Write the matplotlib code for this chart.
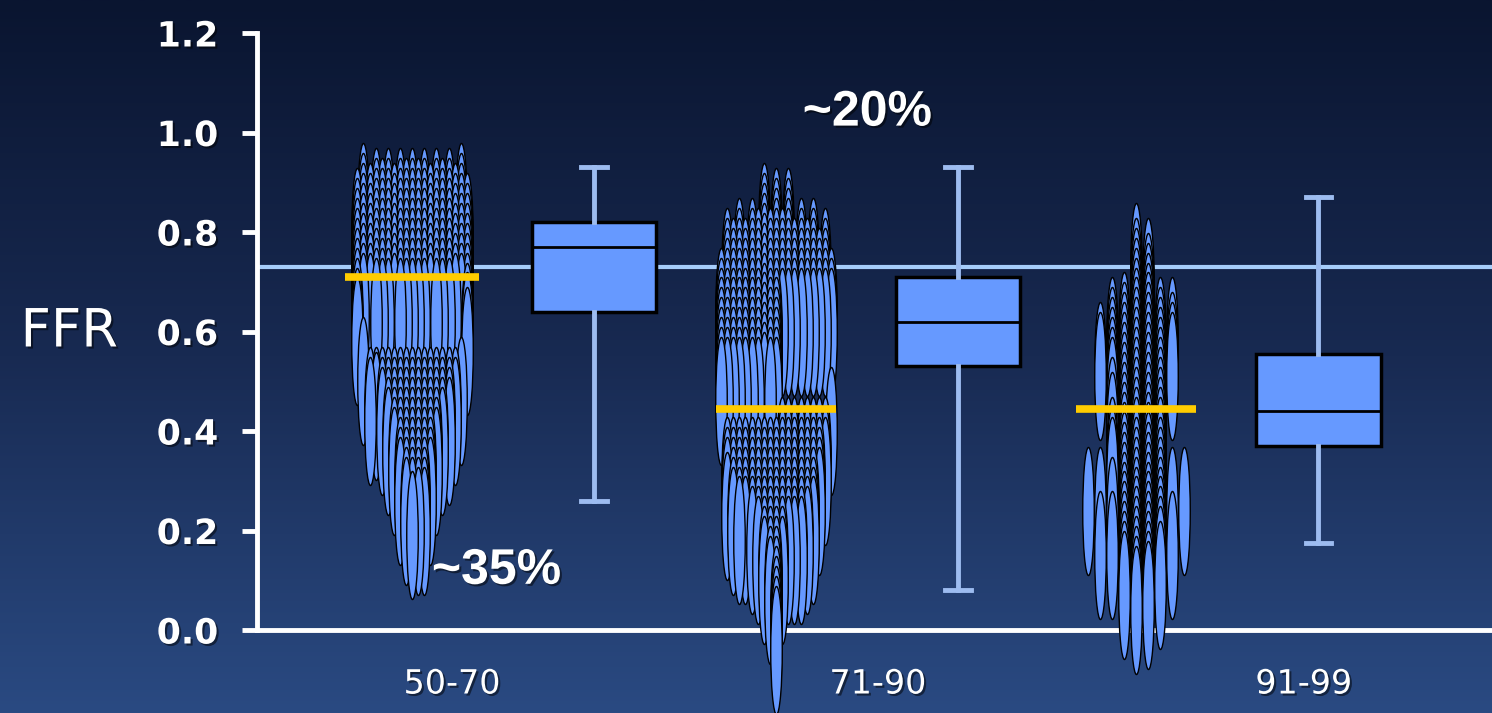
import numpy as np
import matplotlib
matplotlib.use("Agg")
import matplotlib.pyplot as plt
from matplotlib.path import Path
from matplotlib.transforms import Affine2D
from matplotlib.colors import LinearSegmentedColormap
import matplotlib.patheffects as pe

# stenosis groups
groups = ["50-70", "71-90", "91-99"]

# FFR values of each dot, one list per swarm column (left to right)
ffr_50_70 = [
    [0.80, 0.78, 0.76, 0.74, 0.72, 0.70, 0.68, 0.66, 0.64, 0.62, 0.60, 0.58],
    [0.85, 0.83, 0.81, 0.79, 0.77, 0.75, 0.73, 0.71, 0.69, 0.67, 0.65, 0.63, 0.50],
    [0.81, 0.79, 0.77, 0.75, 0.73, 0.71, 0.69, 0.67, 0.65, 0.63, 0.44, 0.42],
    [0.84, 0.82, 0.80, 0.78, 0.76, 0.74, 0.72, 0.70, 0.68, 0.66, 0.64, 0.62, 0.44, 0.43],
    [0.82, 0.80, 0.78, 0.76, 0.74, 0.72, 0.70, 0.68, 0.66, 0.64, 0.62, 0.44, 0.42, 0.40],
    [0.84, 0.82, 0.80, 0.78, 0.76, 0.74, 0.72, 0.70, 0.68, 0.66, 0.64, 0.62, 0.44, 0.42, 0.40, 0.38, 0.36],
    [0.81, 0.79, 0.77, 0.75, 0.73, 0.71, 0.69, 0.67, 0.65, 0.63, 0.44, 0.42, 0.40, 0.38, 0.36, 0.34, 0.32],
    [0.84, 0.82, 0.80, 0.78, 0.76, 0.74, 0.72, 0.70, 0.68, 0.66, 0.64, 0.62, 0.44, 0.42, 0.40, 0.38, 0.36,
     0.34, 0.32, 0.30, 0.28, 0.26],
    [0.82, 0.80, 0.78, 0.76, 0.74, 0.72, 0.70, 0.68, 0.66, 0.64, 0.62, 0.44, 0.42, 0.40, 0.38, 0.36, 0.34,
     0.32, 0.30, 0.28, 0.26, 0.24, 0.22],
    [0.84, 0.82, 0.80, 0.78, 0.76, 0.74, 0.72, 0.70, 0.68, 0.66, 0.64, 0.62, 0.44, 0.42, 0.40, 0.38, 0.36,
     0.34, 0.32, 0.30, 0.28, 0.26, 0.24, 0.22, 0.19],
    [0.82, 0.80, 0.78, 0.76, 0.74, 0.72, 0.70, 0.68, 0.66, 0.64, 0.62, 0.44, 0.42, 0.40, 0.38, 0.36, 0.34,
     0.32, 0.30, 0.28, 0.26, 0.24, 0.22, 0.20],
    [0.84, 0.82, 0.80, 0.78, 0.76, 0.74, 0.72, 0.70, 0.68, 0.66, 0.64, 0.62, 0.44, 0.42, 0.40, 0.38, 0.36,
     0.34, 0.32, 0.30, 0.28, 0.26, 0.24, 0.22, 0.20],
    [0.81, 0.79, 0.77, 0.75, 0.73, 0.71, 0.69, 0.67, 0.65, 0.63, 0.44, 0.42, 0.40, 0.38, 0.36, 0.34, 0.32,
     0.30, 0.28, 0.26],
    [0.84, 0.82, 0.80, 0.78, 0.76, 0.74, 0.72, 0.70, 0.68, 0.66, 0.64, 0.62, 0.44, 0.42, 0.40, 0.38, 0.36,
     0.34, 0.32],
    [0.82, 0.80, 0.78, 0.76, 0.74, 0.72, 0.70, 0.68, 0.66, 0.64, 0.62, 0.44, 0.42, 0.40, 0.38, 0.36],
    [0.84, 0.82, 0.80, 0.78, 0.76, 0.74, 0.72, 0.70, 0.68, 0.66, 0.64, 0.62, 0.44, 0.42, 0.40, 0.38],
    [0.81, 0.79, 0.77, 0.75, 0.73, 0.71, 0.69, 0.67, 0.65, 0.63, 0.44, 0.42],
    [0.85, 0.83, 0.81, 0.79, 0.77, 0.75, 0.73, 0.71, 0.69, 0.67, 0.65, 0.63, 0.46],
    [0.79, 0.77, 0.75, 0.73, 0.71, 0.69, 0.67, 0.65, 0.63, 0.61, 0.59, 0.56],
]

ffr_71_90 = [
    [0.64, 0.62, 0.60, 0.58, 0.56, 0.54, 0.52, 0.50, 0.48, 0.46],
    [0.72, 0.70, 0.68, 0.66, 0.64, 0.62, 0.60, 0.58, 0.56, 0.54, 0.52, 0.50, 0.48, 0.46, 0.30, 0.28, 0.26,
     0.23],
    [0.70, 0.68, 0.66, 0.64, 0.62, 0.60, 0.58, 0.56, 0.54, 0.52, 0.50, 0.48, 0.46, 0.30, 0.28, 0.26, 0.24,
     0.22, 0.20],
    [0.74, 0.72, 0.70, 0.68, 0.66, 0.64, 0.62, 0.60, 0.58, 0.56, 0.54, 0.52, 0.50, 0.48, 0.46, 0.30, 0.28,
     0.26, 0.24, 0.22, 0.20, 0.18],
    [0.70, 0.68, 0.66, 0.64, 0.62, 0.60, 0.58, 0.56, 0.54, 0.52, 0.50, 0.48, 0.46, 0.30, 0.28, 0.26, 0.24,
     0.22, 0.20, 0.18],
    [0.74, 0.72, 0.70, 0.68, 0.66, 0.64, 0.62, 0.60, 0.58, 0.56, 0.54, 0.52, 0.50, 0.48, 0.46, 0.30, 0.28,
     0.26, 0.24, 0.22, 0.20, 0.18, 0.16],
    [0.72, 0.70, 0.68, 0.66, 0.64, 0.62, 0.60, 0.58, 0.56, 0.54, 0.52, 0.50, 0.48, 0.46, 0.30, 0.28, 0.26,
     0.24, 0.22, 0.20, 0.18, 0.16, 0.14],
    [0.81, 0.79, 0.77, 0.75, 0.73, 0.71, 0.69, 0.67, 0.65, 0.63, 0.61, 0.59, 0.57, 0.55, 0.53, 0.51, 0.49,
     0.47, 0.30, 0.28, 0.26, 0.24, 0.22, 0.20, 0.18, 0.16, 0.14, 0.12, 0.10],
    [0.72, 0.70, 0.68, 0.66, 0.64, 0.62, 0.60, 0.58, 0.56, 0.54, 0.52, 0.50, 0.48, 0.46, 0.30, 0.28, 0.26,
     0.24, 0.22, 0.20, 0.18, 0.16, 0.14, 0.12, 0.10, 0.08, 0.06],
    [0.80, 0.78, 0.76, 0.74, 0.72, 0.70, 0.68, 0.66, 0.64, 0.62, 0.60, 0.58, 0.56, 0.54, 0.52, 0.50, 0.48,
     0.46, 0.30, 0.28, 0.26, 0.24, 0.22, 0.20, 0.18, 0.16, 0.14, 0.12, 0.10, 0.08, 0.06, 0.04, 0.02, 0.00,
     -0.02, -0.04],
    [0.72, 0.70, 0.68, 0.66, 0.64, 0.62, 0.60, 0.34, 0.32, 0.30, 0.28, 0.26, 0.24, 0.22, 0.20, 0.18, 0.16,
     0.14, 0.12, 0.10],
    [0.80, 0.78, 0.76, 0.74, 0.72, 0.70, 0.68, 0.66, 0.64, 0.62, 0.60, 0.34, 0.32, 0.30, 0.28, 0.26, 0.24,
     0.22, 0.20, 0.18, 0.16, 0.14],
    [0.70, 0.68, 0.66, 0.64, 0.62, 0.60, 0.34, 0.32, 0.30, 0.28, 0.26, 0.24, 0.22, 0.20, 0.18, 0.16, 0.14],
    [0.74, 0.72, 0.70, 0.68, 0.66, 0.64, 0.62, 0.60, 0.34, 0.32, 0.30, 0.28, 0.26, 0.24, 0.22, 0.20, 0.18,
     0.16, 0.14],
    [0.70, 0.68, 0.66, 0.64, 0.62, 0.60, 0.34, 0.32, 0.30, 0.28, 0.26, 0.24, 0.22, 0.20, 0.18, 0.16],
    [0.74, 0.72, 0.70, 0.68, 0.66, 0.64, 0.62, 0.60, 0.34, 0.32, 0.30, 0.28, 0.26, 0.24, 0.22, 0.20, 0.18],
    [0.68, 0.66, 0.64, 0.62, 0.60, 0.34, 0.32, 0.30, 0.28, 0.26, 0.24],
    [0.72, 0.70, 0.68, 0.66, 0.64, 0.62, 0.60, 0.34, 0.32, 0.30],
    [0.64, 0.62, 0.60, 0.40],
]

ffr_91_99 = [
    [0.24],
    [0.53, 0.51, 0.24, 0.15],
    [0.58, 0.56, 0.54, 0.52, 0.50, 0.48, 0.46, 0.42, 0.39, 0.34, 0.32, 0.30, 0.22, 0.15],
    [0.59, 0.57, 0.55, 0.53, 0.51, 0.49, 0.47, 0.45, 0.43, 0.41, 0.39, 0.37, 0.35, 0.33, 0.31, 0.29, 0.27,
     0.25, 0.23, 0.21, 0.19, 0.17, 0.15, 0.13, 0.11, 0.09, 0.07],
    [0.73, 0.70, 0.68, 0.66, 0.64, 0.62, 0.60, 0.58, 0.56, 0.54, 0.52, 0.50, 0.48, 0.46, 0.44, 0.42, 0.40,
     0.38, 0.36, 0.34, 0.32, 0.30, 0.28, 0.26, 0.24, 0.22, 0.20, 0.18, 0.16, 0.14, 0.12, 0.10, 0.08, 0.06,
     0.04],
    [0.70, 0.67, 0.65, 0.63, 0.61, 0.59, 0.57, 0.55, 0.53, 0.51, 0.49, 0.47, 0.45, 0.43, 0.41, 0.39, 0.37,
     0.35, 0.33, 0.31, 0.29, 0.27, 0.25, 0.23, 0.21, 0.19, 0.17, 0.15, 0.13, 0.11, 0.09, 0.07, 0.05],
    [0.58, 0.56, 0.54, 0.52, 0.50, 0.48, 0.46, 0.44, 0.42, 0.40, 0.38, 0.36, 0.34, 0.32, 0.30, 0.28, 0.26,
     0.24, 0.22, 0.20, 0.18, 0.16, 0.14, 0.12, 0.09],
    [0.58, 0.55, 0.53, 0.51, 0.24, 0.15],
    [0.24],
]

# yellow lines over each swarm
swarm_median = [0.71, 0.445, 0.445]

# box plot summaries
box_q1 = [0.64, 0.53, 0.37]
box_med = [0.77, 0.62, 0.44]
box_q3 = [0.82, 0.71, 0.555]
whisk_lo = [0.26, 0.08, 0.175]
whisk_hi = [0.93, 0.93, 0.87]

cutoff = 0.73

# ---- figure ----
fig = plt.figure(figsize=(14.92, 7.13), dpi=100)

# gradient background
bg = fig.add_axes([0, 0, 1, 1], zorder=-10)
grad = np.linspace(0, 1, 256).reshape(-1, 1)
bg_cmap = LinearSegmentedColormap.from_list("bg", ["#0a1530", "#182a52", "#2a4a82"])
bg.imshow(grad, aspect="auto", cmap=bg_cmap, extent=[0, 1, 0, 1], origin="upper")
bg.axis("off")

ax = fig.add_axes([257 / 1492, 1 - 630 / 713, 1 - 257 / 1492, 597 / 713])
ax.set_facecolor("none")
ax.set_xlim(0.574, 3.967)
ax.set_ylim(0, 1.2)

# reference line
ax.axhline(cutoff, color="#a6cdfa", lw=3, zorder=1)

# swarms of tall ellipses
swarm_pos = [1.0, 2.0, 2.99]
col_step = [0.0167, 0.0168, 0.033]
ellipse = Path.unit_circle().transformed(Affine2D().scale(0.09, 1.0))
for cols, pos, step in zip([ffr_50_70, ffr_71_90, ffr_91_99], swarm_pos, col_step):
    xs = []
    ys = []
    n = len(cols)
    for i, col in enumerate(cols):
        for v in col:
            xs.append(pos + (i - (n - 1) / 2) * step)
            ys.append(v)
    order = np.argsort(ys, kind="stable")[::-1]
    ax.scatter(np.array(xs)[order], np.array(ys)[order], marker=ellipse, s=8500,
               facecolor="#6699ff", edgecolor="black", linewidths=1.0,
               zorder=5, clip_on=False)

# yellow medians
half_w = [0.184, 0.165, 0.165]
ax.hlines(swarm_median, [p - h for p, h in zip(swarm_pos, half_w)],
          [p + h for p, h in zip(swarm_pos, half_w)],
          color="#ffcc00", lw=5.5, zorder=7)

# box plots
stats = []
for i in range(3):
    stats.append(dict(med=box_med[i], q1=box_q1[i], q3=box_q3[i],
                      whislo=whisk_lo[i], whishi=whisk_hi[i], fliers=[]))
ax.bxp(stats, positions=[1.5, 2.5, 3.49], widths=0.343, capwidths=0.07,
       patch_artist=True, showfliers=False, manage_ticks=False,
       boxprops=dict(facecolor="#6699ff", edgecolor="black", linewidth=2.5),
       medianprops=dict(color="black", linewidth=2),
       whiskerprops=dict(color="#9dbcf0", linewidth=3.5),
       capprops=dict(color="#9dbcf0", linewidth=3.5),
       zorder=3)

# axes styling
for side in ["top", "right"]:
    ax.spines[side].set_visible(False)
for side in ["left", "bottom"]:
    ax.spines[side].set_color("white")
    ax.spines[side].set_linewidth(3.5)
    ax.spines[side].set_zorder(4)

shadow = [pe.withSimplePatchShadow(offset=(1.5, -1.5), shadow_rgbFace="black", alpha=0.5)]

ax.set_yticks([0.0, 0.2, 0.4, 0.6, 0.8, 1.0, 1.2])
ax.set_yticklabels(["0.0", "0.2", "0.4", "0.6", "0.8", "1.0", "1.2"])
ax.tick_params(axis="y", direction="out", length=11, width=3.5, color="white",
               labelcolor="white", labelsize=25, pad=17)
for lab in ax.get_yticklabels():
    lab.set_fontweight("bold")
    lab.set_path_effects(shadow)

ax.set_xticks([1.11, 2.28, 3.45])
ax.set_xticklabels(groups)
ax.tick_params(axis="x", length=0, labelcolor="white", labelsize=24, pad=27)
for lab in ax.get_xticklabels():
    lab.set_path_effects(shadow)

ax.set_ylabel("FFR", rotation=0, fontsize=38, color="white", ha="center", va="center",
              path_effects=shadow)
ax.yaxis.set_label_coords(-0.152, 0.5)

ax.text(1.232, 0.119, "~35%", fontsize=36, fontweight="bold", color="white",
        family="Liberation Sans", ha="center", va="center", zorder=8, path_effects=shadow)
ax.text(2.251, 1.040, "~20%", fontsize=36, fontweight="bold", color="white",
        family="Liberation Sans", ha="center", va="center", zorder=8, path_effects=shadow)

fig.savefig("out.png", dpi=100)
